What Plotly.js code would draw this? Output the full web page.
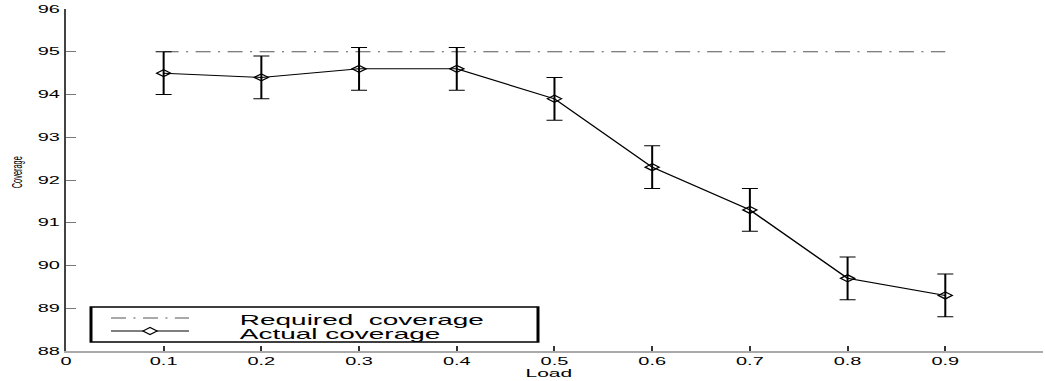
<!DOCTYPE html>
<html>
<head>
<meta charset="utf-8">
<script src="https://cdn.plot.ly/plotly-3.0.1.min.js"></script>
<style>
html,body{margin:0;padding:0;overflow:hidden;background:#fff;width:1045px;height:381px}
#chart{width:523px;height:381px;transform:scaleX(1.99809);transform-origin:0 0}
#chart text{white-space:pre}
</style>
</head>
<body>
<div id="chart"></div>
<script>
// ---- data ----
const load = [0.1, 0.2, 0.3, 0.4, 0.5, 0.6, 0.7, 0.8, 0.9];
const actualCoverage = [94.5, 94.4, 94.6, 94.6, 93.9, 92.3, 91.3, 89.7, 89.3];
const coverageError = [0.5, 0.5, 0.5, 0.5, 0.5, 0.5, 0.5, 0.5, 0.5];
const requiredCoverage = [95, 95, 95, 95, 95, 95, 95, 95, 95];
const xTickValues = [0, 0.1, 0.2, 0.3, 0.4, 0.5, 0.6, 0.7, 0.8, 0.9, 1];
const xTickLabels = ['0', '0.1', '0.2', '0.3', '0.4', '0.5', '0.6', '0.7', '0.8', '0.9', '1'];
const yTickValues = [88, 89, 90, 91, 92, 93, 94, 95, 96];
const legendLabels = ['Required  coverage', 'Actual coverage'];

// ---- geometry (page is drawn at half width and stretched horizontally) ----
const SX = 1045 / 523;
const ML = 33, MR = 1, MT = 9, MB = 30, H = 381, W = 523;
const PW = W - ML - MR, PH = H - MT - MB;
const px = x => (x / SX - ML) / PW;          // screen x -> paper
const py = y => (H - MB - y) / PH;           // screen y -> paper

const FONT = 'Liberation Sans, Arial, Helvetica, sans-serif';
const DASHDOT = '7.5px,3.75px,1px,3.75px';

const traces = [
  {
    x: load, y: requiredCoverage, type: 'scatter', mode: 'lines',
    name: legendLabels[0],
    line: {color: '#555', width: 1, dash: DASHDOT},
    showlegend: false, hoverinfo: 'skip'
  },
  {
    x: load, y: actualCoverage, type: 'scatter', mode: 'lines+markers',
    name: legendLabels[1],
    line: {color: '#000', width: 1},
    marker: {symbol: 'diamond-open', size: 5.4, color: '#000', line: {width: 1, color: '#000'}},
    error_y: {type: 'data', array: coverageError, visible: true, color: '#000', thickness: 1, width: 4},
    showlegend: false, hoverinfo: 'skip'
  }
];

// legend drawn by hand (box, samples, labels)
const dHW = 3.5 / PW, dHH = 3.5 / PH;
const dcx = px(150), dcy = py(331);
const diamondPath = `M${dcx - dHW},${dcy} L${dcx},${dcy + dHH} L${dcx + dHW},${dcy} L${dcx},${dcy - dHH} Z`;

const shapes = [
  {type: 'rect', xref: 'paper', yref: 'paper', x0: px(91), x1: px(538), y0: py(342), y1: py(307),
   line: {color: '#000', width: 1.5}, fillcolor: 'rgba(0,0,0,0)'},
  {type: 'line', xref: 'paper', yref: 'paper', x0: px(111), x1: px(189), y0: py(318), y1: py(318),
   line: {color: '#555', width: 1, dash: DASHDOT}},
  {type: 'line', xref: 'paper', yref: 'paper', x0: px(111), x1: px(189), y0: py(331), y1: py(331),
   line: {color: '#000', width: 1}},
  {type: 'path', xref: 'paper', yref: 'paper', path: diamondPath,
   line: {color: '#000', width: 1}, fillcolor: '#fff'}
];

const annotations = [
  {text: legendLabels[0], xref: 'paper', yref: 'paper', x: px(236), y: py(320), xanchor: 'left', yanchor: 'middle',
   showarrow: false, font: {family: FONT, size: 14, color: '#000'}},
  {text: legendLabels[1], xref: 'paper', yref: 'paper', x: px(236), y: py(334), xanchor: 'left', yanchor: 'middle',
   showarrow: false, font: {family: FONT, size: 14, color: '#000'}},
  {text: 'Load', xref: 'paper', yref: 'paper', x: px(550), y: py(373), xanchor: 'center', yanchor: 'middle',
   showarrow: false, font: {family: FONT, size: 10.5, color: '#000'}},
  {text: 'Coverage', xref: 'paper', yref: 'paper', x: px(16.5), y: py(172), xanchor: 'center', yanchor: 'middle',
   textangle: -90, showarrow: false, font: {family: FONT, size: 7.4, color: '#000'}}
];

const layout = {
  width: W, height: H,
  margin: {l: ML, r: MR, t: MT, b: MB, pad: 0},
  paper_bgcolor: '#fff', plot_bgcolor: '#fff',
  showlegend: false, hovermode: false,
  font: {family: FONT, size: 10, color: '#000'},
  xaxis: {
    range: [0, 1], tickmode: 'array', tickvals: xTickValues, ticktext: xTickLabels,
    ticks: 'inside', ticklen: 5, tickwidth: 1, tickcolor: '#333',
    showline: true, linecolor: '#aaa', linewidth: 2, mirror: false,
    showgrid: false, zeroline: false, automargin: false,
    tickfont: {family: FONT, size: 10, color: '#000'}
  },
  yaxis: {
    range: [88, 96], tickmode: 'array', tickvals: yTickValues,
    ticks: 'inside', ticklen: 5, tickwidth: 1, tickcolor: '#777',
    showline: true, linecolor: '#444', linewidth: 1, mirror: false,
    showgrid: false, zeroline: false, automargin: false,
    tickfont: {family: FONT, size: 10, color: '#000'}
  },
  shapes: shapes,
  annotations: annotations
};

Plotly.newPlot('chart', traces, layout, {displayModeBar: false, staticPlot: true});
</script>
</body>
</html>
